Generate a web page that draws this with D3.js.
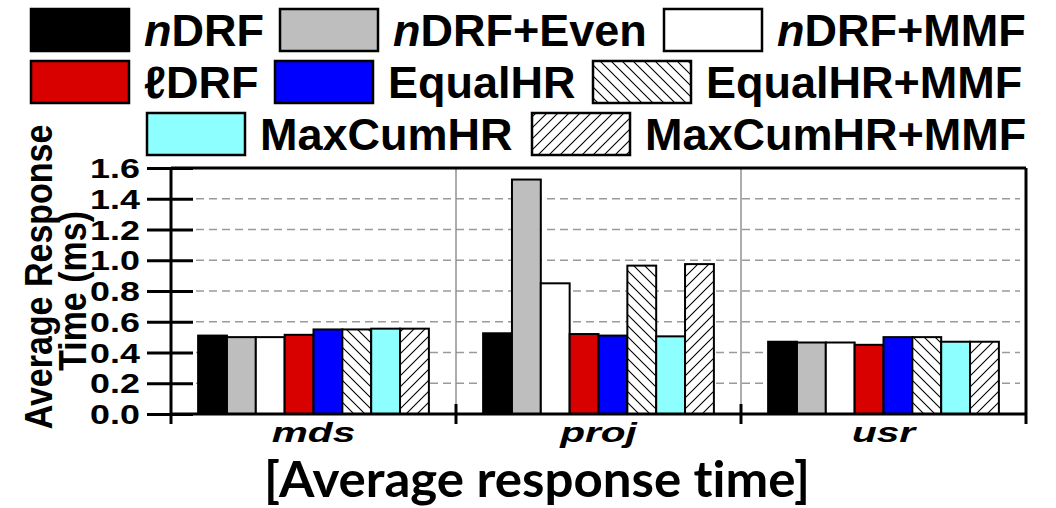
<!DOCTYPE html>
<meta charset="utf-8">
<style>
    body { margin: 0; background: #fff; }
    svg { display: block; }
    .bold { font-family: "Liberation Sans", Arial, sans-serif; font-weight: bold; }
</style>
<body>
<script src="https://d3js.org/d3.v7.min.js"></script>
<script>
    // data
    let categories = ["mds", "proj", "usr"];
    let seriesNames = ["nDRF", "nDRF+Even", "nDRF+MMF", "ℓDRF", "EqualHR", "EqualHR+MMF", "MaxCumHR", "MaxCumHR+MMF"];
    let nDRF        = [0.51, 0.525, 0.47];
    let nDRFEven    = [0.50, 1.525, 0.465];
    let nDRFMMF     = [0.50, 0.85, 0.465];
    let lDRF        = [0.515, 0.52, 0.45];
    let equalHR     = [0.55, 0.51, 0.50];
    let equalHRMMF  = [0.55, 0.965, 0.50];
    let maxCumHR    = [0.555, 0.505, 0.47];
    let maxCumHRMMF = [0.555, 0.975, 0.47];
    let yTicks = [0, 0.2, 0.4, 0.6, 0.8, 1.0, 1.2, 1.4, 1.6];

    let seriesValues = [nDRF, nDRFEven, nDRFMMF, lDRF, equalHR, equalHRMMF, maxCumHR, maxCumHRMMF];

    // styles
    let fills = ["#000000", "#bebebe", "#ffffff", "#d90000", "#0000ff", "url(#hatchB)", "#8effff", "url(#hatchF)"];

    let width = 1056, height = 508;
    let plotLeft = 171, plotRight = 1026, plotTop = 168, plotBottom = 414;

    let svg = d3.select("body").append("svg")
        .attr("width", width)
        .attr("height", height);

    // hatch patterns
    let defs = svg.append("defs");
    function hatch(id, d) {
        let p = defs.append("pattern")
            .attr("id", id)
            .attr("patternUnits", "userSpaceOnUse")
            .attr("width", 11).attr("height", 11);
        p.append("rect").attr("width", 11).attr("height", 11).attr("fill", "#fff");
        p.append("path").attr("d", d).attr("stroke", "#000").attr("stroke-width", 1.1).attr("fill", "none");
    }
    hatch("hatchB", "M0,0L11,11M-5.5,5.5L5.5,16.5M5.5,-5.5L16.5,5.5");
    hatch("hatchF", "M0,11L11,0M-5.5,5.5L5.5,-5.5M5.5,16.5L16.5,5.5");

    let x = d3.scaleBand().domain(categories).range([plotLeft, plotRight]).padding(0);
    let xSub = d3.scaleBand().domain(d3.range(seriesNames.length))
        .range([0, x.bandwidth()]).paddingInner(0).paddingOuter(0.94);
    let y = d3.scaleLinear().domain([0, 1.6]).range([plotBottom, plotTop]);

    // grid lines
    svg.append("g").selectAll("line")
        .data(yTicks.filter(d => d > 0 && d < 1.6))
        .join("line")
            .attr("x1", plotLeft + 25).attr("x2", plotRight - 6)
            .attr("y1", d => y(d)).attr("y2", d => y(d))
            .attr("stroke", "#9a9a9a").attr("stroke-width", 1.6)
            .attr("stroke-dasharray", "8,5");

    // category separators
    svg.append("g").selectAll("line")
        .data(categories.slice(1))
        .join("line")
            .attr("x1", d => x(d)).attr("x2", d => x(d))
            .attr("y1", plotTop).attr("y2", plotBottom)
            .attr("stroke", "#8a8a8a").attr("stroke-width", 1.4);

    // bars
    let groups = svg.append("g").selectAll("g")
        .data(categories)
        .join("g")
            .attr("transform", d => "translate(" + x(d) + ",0)");

    groups.selectAll("rect")
        .data((c, ci) => seriesValues.map((vals, si) => ({s: si, v: vals[ci]})))
        .join("rect")
            .attr("x", d => xSub(d.s))
            .attr("y", d => y(d.v))
            .attr("width", xSub.bandwidth())
            .attr("height", d => plotBottom - y(d.v))
            .attr("fill", d => fills[d.s])
            .attr("stroke", "#000")
            .attr("stroke-width", 2);

    // y axis
    let yAxis = svg.append("g")
        .attr("transform", "translate(" + plotLeft + ",0)")
        .call(d3.axisLeft(y).tickValues(yTicks).tickSize(24).tickFormat(d3.format(".1f")));
    yAxis.select(".domain").remove();
    yAxis.selectAll(".tick line").attr("x1", 22).attr("stroke", "#000").attr("stroke-width", 3);
    yAxis.selectAll(".tick text")
        .attr("class", "bold")
        .attr("font-size", 27)
        .attr("fill", "#000")
        .attr("x", 0)
        .attr("dy", "0.36em")
        .attr("transform", "translate(-31,0) scale(1.33,1)");

    // frame
    let frame = svg.append("g").attr("stroke", "#000").attr("stroke-width", 3).attr("fill", "none");
    frame.append("line").attr("x1", plotLeft).attr("x2", plotLeft).attr("y1", plotTop).attr("y2", plotBottom + 10);
    frame.append("line").attr("x1", plotRight).attr("x2", plotRight).attr("y1", plotTop).attr("y2", plotBottom + 10);
    frame.append("line").attr("x1", plotLeft).attr("x2", plotRight).attr("y1", plotTop).attr("y2", plotTop);
    frame.append("line").attr("x1", plotLeft).attr("x2", plotRight).attr("y1", plotBottom).attr("y2", plotBottom);
    frame.selectAll(".ct")
        .data(categories.slice(1))
        .join("line")
            .attr("x1", d => x(d)).attr("x2", d => x(d))
            .attr("y1", plotBottom - 10).attr("y2", plotBottom + 10);

    // category labels
    svg.append("g").selectAll("text")
        .data(categories)
        .join("text")
            .attr("class", "bold")
            .attr("font-style", "italic")
            .attr("font-size", 28)
            .attr("text-anchor", "middle")
            .attr("transform", d => "translate(" + (x(d) + x.bandwidth() / 2) + ",441.5) scale(1.45,1)")
            .text(d => d);

    // y title
    svg.append("text").attr("class", "bold").attr("font-size", 34)
        .attr("text-anchor", "middle")
        .attr("transform", "translate(52,277) scale(1.12,1) rotate(-90)")
        .text("Average Response");
    svg.append("text").attr("class", "bold").attr("font-size", 34)
        .attr("text-anchor", "middle")
        .attr("transform", "translate(86,291) scale(1.12,1) rotate(-90)")
        .text("Time (ms)");

    // bottom caption
    svg.append("text")
        .attr("font-family", "Lato, sans-serif")
        .attr("font-weight", "bold")
        .attr("font-size", 50)
        .style("font-variant-ligatures", "none")
        .attr("x", 264).attr("y", 497)
        .attr("textLength", 546)
        .attr("lengthAdjust", "spacingAndGlyphs")
        .text("[Average response time]");

    // legend
    let legendRows = [[0, 1, 2], [3, 4, 5], [6, 7]];
    let legendX = [[31, 280, 664], [31, 275, 593], [147, 532]];
    let legend = svg.append("g");
    legendRows.forEach(function(row, ri) {
        let sy = 9 + ri * 52;
        row.forEach(function(si, k) {
            let sx = legendX[ri][k];
            legend.append("rect")
                .attr("x", sx).attr("y", sy)
                .attr("width", 98).attr("height", 42)
                .attr("fill", fills[si])
                .attr("stroke", "#000").attr("stroke-width", 2.5);
            let t = legend.append("text")
                .attr("class", "bold")
                .attr("font-size", 45)
                .attr("x", sx + 98 + 15)
                .attr("y", sy + 21 + 16);
            let name = seriesNames[si];
            if (name.startsWith("nDRF")) {
                t.append("tspan").attr("font-style", "italic").text("n");
                t.append("tspan").text(name.slice(1));
            } else {
                t.text(name);
            }
        });
    });
</script>
</body>
